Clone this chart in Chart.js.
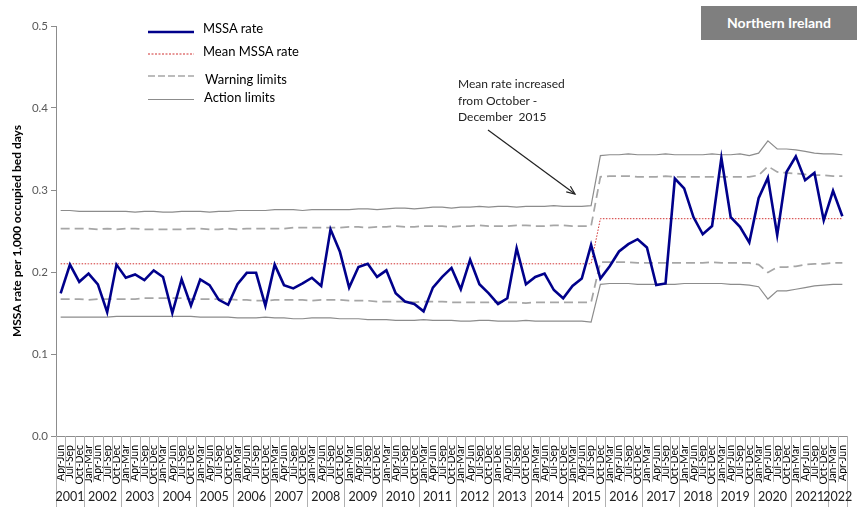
<!DOCTYPE html>
<html><head><meta charset="utf-8">
<script src="https://cdn.jsdelivr.net/npm/chart.js@4/dist/chart.umd.min.js"></script>
<style>
html,body{margin:0;padding:0;background:#fff;}
#wrap{position:relative;width:857px;height:507px;overflow:hidden;}
canvas{position:absolute;left:0;top:0;}
.t{position:absolute;font-family:Lato,'Open Sans',sans-serif;color:#000;white-space:nowrap;}
</style></head><body>
<div id="wrap">
<canvas id="c" width="857" height="507"></canvas>
<div class="t" style="left:701px;top:6px;width:156px;height:34px;background:#7f7f7f;color:#fff;font-weight:bold;font-size:14px;line-height:34px;text-align:center;">Northern Ireland</div>
<div class="t" style="left:203px;top:20px;font-size:13px;line-height:16px;">MSSA rate</div>
<div class="t" style="left:203px;top:43px;font-size:13px;line-height:16px;">Mean MSSA rate</div>
<div class="t" style="left:205px;top:71px;font-size:13px;line-height:16px;">Warning limits</div>
<div class="t" style="left:204px;top:89px;font-size:13px;line-height:16px;">Action limits</div>
<div class="t" style="left:458px;top:76px;font-size:12px;line-height:16.5px;color:#222;">Mean rate increased<br>from October -<br>December&nbsp; 2015</div>
</div>
<script>
const quarterLabels = [
 'Apr-Jun','Jul-Sep','Oct-Dec',
 'Jan-Mar','Apr-Jun','Jul-Sep','Oct-Dec',
 'Jan-Mar','Apr-Jun','Jul-Sep','Oct-Dec',
 'Jan-Mar','Apr-Jun','Jul-Sep','Oct-Dec',
 'Jan-Mar','Apr-Jun','Jul-Sep','Oct-Dec',
 'Jan-Mar','Apr-Jun','Jul-Sep','Oct-Dec',
 'Jan-Mar','Apr-Jun','Jul-Sep','Oct-Dec',
 'Jan-Mar','Apr-Jun','Jul-Sep','Oct-Dec',
 'Jan-Mar','Apr-Jun','Jul-Sep','Oct-Dec',
 'Jan-Mar','Apr-Jun','Jul-Sep','Oct-Dec',
 'Jan-Mar','Apr-Jun','Jul-Sep','Oct-Dec',
 'Jan-Mar','Apr-Jun','Jul-Sep','Oct-Dec',
 'Jan-Dec','Apr-Jun','Jul-Sep','Oct-Dec',
 'Jan-Mar','Apr-Jun','Jul-Sep','Oct-Dec',
 'Jan-Mar','Apr-Jun','Jul-Sep','Oct-Dec',
 'Jan-Mar','Apr-Jun','Jul-Sep','Oct-Dec',
 'Jan-Mar','Apr-Jun','Jul-Sep','Oct-Dec',
 'Jan-Mar','Apr-Jun','Jul-Sep','Oct-Dec',
 'Jan-Mar','Apr-Jun','Jul-Sep','Oct-Dec',
 'Jan-Mar','Apr-Jun','Jul-Sep','Oct-Dec',
 'Jan-Mar','Apr-Jun','Jul-Sep','Oct-Dec',
 'Jan-Mar','Apr-Jun'
];
const years = ['2001','2002','2003','2004','2005','2006','2007','2008','2009','2010','2011','2012','2013','2014','2015','2016','2017','2018','2019','2020','2021','2022'];
const quartersPerYear = [3,4,4,4,4,4,4,4,4,4,4,4,4,4,4,4,4,4,4,4,4,2];

const mssaRate = [
 0.174,0.209,0.188,0.198,0.185,0.151,0.209,0.193,0.197,0.190,
 0.202,0.194,0.150,0.191,0.159,0.191,0.184,0.166,0.160,0.185,
 0.199,0.199,0.159,0.209,0.184,0.180,0.186,0.193,0.183,0.252,
 0.225,0.181,0.206,0.210,0.194,0.202,0.174,0.164,0.161,0.152,
 0.181,0.194,0.205,0.179,0.215,0.185,0.174,0.161,0.168,0.229,
 0.185,0.194,0.198,0.178,0.168,0.183,0.192,0.233,0.192,0.207,
 0.225,0.234,0.240,0.230,0.184,0.186,0.314,0.302,0.267,0.246,
 0.256,0.339,0.267,0.255,0.236,0.290,0.315,0.245,0.322,0.341,
 0.312,0.321,0.263,0.299,0.268
];
const meanRate = [
 0.21,0.21,0.21,0.21,0.21,0.21,0.21,0.21,0.21,0.21,
 0.21,0.21,0.21,0.21,0.21,0.21,0.21,0.21,0.21,0.21,
 0.21,0.21,0.21,0.21,0.21,0.21,0.21,0.21,0.21,0.21,
 0.21,0.21,0.21,0.21,0.21,0.21,0.21,0.21,0.21,0.21,
 0.21,0.21,0.21,0.21,0.21,0.21,0.21,0.21,0.21,0.21,
 0.21,0.21,0.21,0.21,0.21,0.21,0.21,0.21,0.265,0.265,
 0.265,0.265,0.265,0.265,0.265,0.265,0.265,0.265,0.265,0.265,
 0.265,0.265,0.265,0.265,0.265,0.265,0.265,0.265,0.265,0.265,
 0.265,0.265,0.265,0.265,0.265
];
const upperWarning = [
 0.253,0.253,0.253,0.253,0.252,0.253,0.252,0.253,0.253,0.252,
 0.252,0.252,0.252,0.252,0.253,0.253,0.252,0.252,0.253,0.252,
 0.253,0.253,0.253,0.253,0.253,0.254,0.254,0.254,0.254,0.254,
 0.254,0.255,0.255,0.254,0.255,0.255,0.256,0.255,0.255,0.256,
 0.256,0.256,0.255,0.256,0.256,0.257,0.256,0.256,0.256,0.257,
 0.257,0.256,0.256,0.257,0.257,0.256,0.256,0.256,0.316,0.317,
 0.317,0.317,0.316,0.316,0.316,0.317,0.316,0.316,0.316,0.316,
 0.316,0.316,0.316,0.316,0.316,0.318,0.329,0.322,0.321,0.320,
 0.319,0.318,0.318,0.317,0.317
];
const lowerWarning = [
 0.167,0.167,0.167,0.166,0.167,0.167,0.167,0.167,0.167,0.168,
 0.168,0.168,0.168,0.168,0.167,0.167,0.167,0.167,0.167,0.166,
 0.166,0.165,0.165,0.166,0.166,0.166,0.166,0.165,0.166,0.166,
 0.166,0.165,0.165,0.165,0.164,0.164,0.164,0.164,0.163,0.164,
 0.164,0.164,0.163,0.163,0.163,0.163,0.163,0.164,0.163,0.163,
 0.162,0.163,0.163,0.163,0.163,0.163,0.163,0.163,0.212,0.212,
 0.212,0.212,0.211,0.211,0.211,0.211,0.211,0.211,0.211,0.211,
 0.212,0.211,0.211,0.211,0.211,0.209,0.1995,0.206,0.206,0.207,
 0.209,0.210,0.210,0.211,0.211
];
const upperAction = [
 0.275,0.275,0.274,0.274,0.274,0.274,0.274,0.274,0.273,0.274,
 0.274,0.273,0.273,0.274,0.274,0.274,0.273,0.274,0.274,0.275,
 0.275,0.275,0.275,0.276,0.276,0.276,0.275,0.276,0.276,0.276,
 0.276,0.276,0.277,0.277,0.276,0.277,0.278,0.278,0.277,0.278,
 0.279,0.279,0.278,0.279,0.279,0.280,0.279,0.280,0.280,0.279,
 0.280,0.280,0.280,0.281,0.280,0.280,0.280,0.281,0.342,0.343,
 0.343,0.344,0.343,0.343,0.343,0.344,0.343,0.343,0.343,0.343,
 0.344,0.343,0.343,0.344,0.342,0.345,0.360,0.350,0.350,0.349,
 0.347,0.345,0.344,0.344,0.343
];
const lowerAction = [
 0.145,0.145,0.145,0.145,0.145,0.145,0.146,0.146,0.146,0.146,
 0.146,0.146,0.146,0.146,0.146,0.145,0.145,0.145,0.145,0.144,
 0.144,0.144,0.145,0.144,0.144,0.143,0.143,0.144,0.144,0.144,
 0.143,0.143,0.143,0.142,0.142,0.142,0.141,0.141,0.141,0.142,
 0.141,0.141,0.141,0.140,0.140,0.141,0.141,0.140,0.140,0.140,
 0.141,0.140,0.140,0.140,0.140,0.140,0.140,0.139,0.185,0.186,
 0.186,0.186,0.185,0.185,0.185,0.185,0.185,0.186,0.186,0.186,
 0.186,0.186,0.185,0.185,0.184,0.182,0.167,0.177,0.177,0.179,
 0.181,0.183,0.184,0.185,0.185
];
const yTicks = [0,0.1,0.2,0.3,0.4,0.5];

const C_RATE='#00008b', C_MEAN='#d03030', C_WARN='#a6a6a6', C_ACT='#8c8c8c';

const deco = {
  id:'deco',
  afterDraw(chart){
    const ctx = chart.ctx, a = chart.chartArea, xs = chart.scales.x;
    const n = quarterLabels.length, w = (a.right - a.left)/n;
    ctx.save();
    const yb = new Set([0]); let k = 0;
    quartersPerYear.forEach(c=>{k+=c; yb.add(k);});
    ctx.strokeStyle = '#b0b0b0'; ctx.lineWidth = 1;
    for (let i=0;i<=n;i++){
      const x = Math.round(xs.getPixelForValue(i) - w/2) + 0.5;
      ctx.beginPath(); ctx.moveTo(x, a.bottom); ctx.lineTo(x, yb.has(i) ? 507 : 482); ctx.stroke();
    }
    ctx.fillStyle = '#222'; ctx.font = '12.5px Lato, sans-serif';
    ctx.textAlign = 'center'; ctx.textBaseline = 'middle';
    k = 0;
    years.forEach((y,j)=>{
      const x0 = xs.getPixelForValue(k) - w/2;
      const x1 = xs.getPixelForValue(k + quartersPerYear[j] - 1) + w/2;
      ctx.fillText(y, (x0+x1)/2, 497);
      k += quartersPerYear[j];
    });
    const L0 = 148, L1 = 194;
    ctx.setLineDash([]); ctx.strokeStyle = C_RATE; ctx.lineWidth = 2.5;
    ctx.beginPath(); ctx.moveTo(L0,32); ctx.lineTo(L1,32); ctx.stroke();
    ctx.setLineDash([2,1.5]); ctx.strokeStyle = C_MEAN; ctx.lineWidth = 1;
    ctx.beginPath(); ctx.moveTo(L0,54); ctx.lineTo(L1,54); ctx.stroke();
    ctx.setLineDash([7,3]); ctx.strokeStyle = C_WARN; ctx.lineWidth = 1.5;
    ctx.beginPath(); ctx.moveTo(L0,76); ctx.lineTo(L1,76); ctx.stroke();
    ctx.setLineDash([]); ctx.strokeStyle = C_ACT; ctx.lineWidth = 1.2;
    ctx.beginPath(); ctx.moveTo(L0,99.5); ctx.lineTo(L1,99.5); ctx.stroke();
    const ax0=488, ay0=130, ax1=575, ay1=194;
    ctx.strokeStyle = '#222'; ctx.lineWidth = 1.2;
    ctx.beginPath(); ctx.moveTo(ax0,ay0); ctx.lineTo(ax1,ay1); ctx.stroke();
    const ang = Math.atan2(ay1-ay0, ax1-ax0), hl = 9;
    ctx.beginPath();
    ctx.moveTo(ax1 - hl*Math.cos(ang-0.4), ay1 - hl*Math.sin(ang-0.4));
    ctx.lineTo(ax1, ay1);
    ctx.lineTo(ax1 - hl*Math.cos(ang+0.4), ay1 - hl*Math.sin(ang+0.4));
    ctx.stroke();
    ctx.restore();
  }
};

new Chart(document.getElementById('c'), {
  type:'line',
  data:{
    labels: quarterLabels,
    datasets:[
      {label:'Action limits', data:upperAction, borderColor:C_ACT, borderWidth:1.2, pointRadius:0, tension:0, order:4},
      {label:'Action limits lower', data:lowerAction, borderColor:C_ACT, borderWidth:1.2, pointRadius:0, tension:0, order:4},
      {label:'Warning limits', data:upperWarning, borderColor:C_WARN, borderWidth:1.75, borderDash:[9,5], pointRadius:0, tension:0, order:3},
      {label:'Warning limits lower', data:lowerWarning, borderColor:C_WARN, borderWidth:1.75, borderDash:[9,5], pointRadius:0, tension:0, order:3},
      {label:'Mean MSSA rate', data:meanRate, borderColor:C_MEAN, borderWidth:1, borderDash:[1.5,1.5], pointRadius:0, tension:0, order:2},
      {label:'MSSA rate', data:mssaRate, borderColor:C_RATE, borderWidth:2.6, pointRadius:0, tension:0, order:1}
    ]
  },
  options:{
    responsive:false, animation:false, devicePixelRatio:1,
    layout:{padding:{top:26,right:10,left:0,bottom:0}},
    plugins:{legend:{display:false}, tooltip:{enabled:false}},
    scales:{
      x:{
        type:'category', offset:true,
        grid:{display:false},
        border:{display:true, color:'#8c8c8c'},
        ticks:{autoSkip:false, maxRotation:90, minRotation:90, padding:1, color:'#000', font:{family:'Lato', size:10.5}},
        afterFit(s){ s.height = 71; }
      },
      y:{
        min:0, max:0.5,
        afterBuildTicks(s){ s.ticks = yTicks.map(v=>({value:v})); },
        ticks:{color:'#595959', font:{family:'Lato', size:11.5}, padding:3, callback:v=>Number(v).toFixed(1)},
        grid:{drawOnChartArea:false, tickLength:5, color:'#8c8c8c'},
        border:{display:true, color:'#8c8c8c'},
        title:{display:true, text:'MSSA rate per 1,000 occupied bed days', color:'#000', font:{family:'Lato', size:12, weight:'bold'}, padding:{top:10,bottom:0}},
        afterFit(s){ s.width = 56; }
      }
    }
  },
  plugins:[deco]
});
</script>
</body></html>
